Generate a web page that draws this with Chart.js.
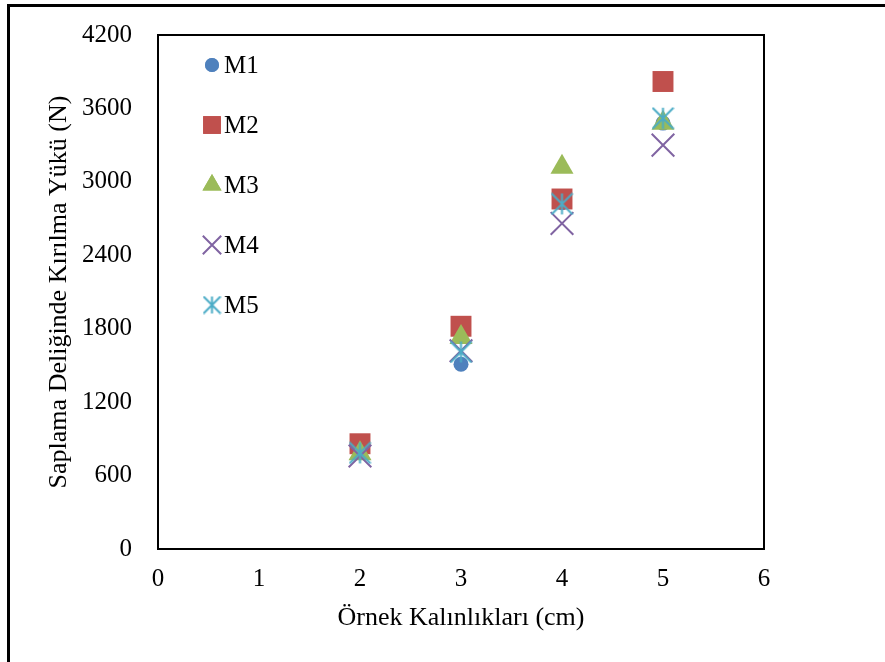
<!DOCTYPE html>
<html>
<head>
<meta charset="utf-8">
<script src="https://cdn.jsdelivr.net/npm/chart.js@4/dist/chart.umd.min.js"></script>
<style>
  html, body { margin: 0; padding: 0; background: #fff; }
  canvas { display: block; }
</style>
</head>
<body>
<canvas id="scatterChart" width="885" height="662"></canvas>
<script>
// sample thickness (cm)
const thickness = [2, 3, 4, 5];

// breaking load values (N) per mix
const m1Values = [790, 1510, 2830, 3480];
const m2Values = [860, 1820, 2860, 3820];
const m3Values = [780, 1730, 3120, 3480];
const m4Values = [760, 1620, 2660, 3300];
const m5Values = [785, 1610, 2820, 3520];

const seriesNames = ['M1', 'M2', 'M3', 'M4', 'M5'];
const yTicks = [0, 600, 1200, 1800, 2400, 3000, 3600, 4200];
const xTicks = [0, 1, 2, 3, 4, 5, 6];

const serif = "'Liberation Serif', 'Times New Roman', serif";

// asterisk marker (vertical line + X), like the Excel star marker
function makeStar(size, color) {
    const c = document.createElement('canvas');
    c.width = size; c.height = size;
    const g = c.getContext('2d');
    g.strokeStyle = color;
    g.lineWidth = 2;
    const m = size / 2, r = size / 2 - 1;
    g.beginPath();
    g.moveTo(m, m - r); g.lineTo(m, m + r);
    g.moveTo(m - r, m - r); g.lineTo(m + r, m + r);
    g.moveTo(m + r, m - r); g.lineTo(m - r, m + r);
    g.stroke();
    return c;
}

const starBig = makeStar(23, '#4BACC6');
const starSmall = makeStar(19, '#4BACC6');

const styles = [
    { color: '#4F81BD', pointStyle: 'circle', radius: 7.5, legendRadius: 7, borderWidth: 0 },
    { color: '#C0504D', pointStyle: 'rect', radius: 14.8, legendRadius: 12.5, borderWidth: 0 },
    { color: '#9BBB59', pointStyle: 'triangle', radius: 13.3, legendRadius: 11, borderWidth: 0 },
    { color: '#8064A2', pointStyle: 'crossRot', radius: 16, legendRadius: 13, borderWidth: 2 },
    { color: '#4BACC6', pointStyle: starBig, radius: 12, legendRadius: 10, borderWidth: 2, legendStyle: starSmall }
];

const allValues = [m1Values, m2Values, m3Values, m4Values, m5Values];

const datasets = allValues.map((vals, i) => {
    const s = styles[i];
    return {
        label: seriesNames[i],
        data: thickness.map((x, k) => ({ x: x, y: vals[k] })),
        pointStyle: s.pointStyle,
        pointRadius: s.radius,
        pointHoverRadius: s.radius,
        backgroundColor: s.color,
        borderColor: s.color,
        pointBorderWidth: s.borderWidth,
        showLine: false,
        order: 5 - i
    };
});

// outer frame + plot box
const framePlugin = {
    id: 'frame',
    beforeDraw(chart) {
        const ctx = chart.ctx;
        ctx.save();
        ctx.fillStyle = '#fff';
        ctx.fillRect(0, 0, chart.width, chart.height);
        ctx.fillStyle = '#000';
        ctx.fillRect(7, 4, chart.width - 7, 3);
        ctx.fillRect(7, 4, 3, chart.height - 4);
        ctx.restore();
    },
    afterDatasetsDraw(chart) {
        const a = chart.chartArea;
        const ctx = chart.ctx;
        ctx.save();
        ctx.strokeStyle = '#000';
        ctx.lineWidth = 2;
        ctx.strokeRect(a.left, a.top, a.right - a.left, a.bottom - a.top);
        ctx.restore();
    }
};

// legend drawn inside the plot, top left
const innerLegend = {
    id: 'innerLegend',
    afterDraw(chart) {
        const ctx = chart.ctx;
        ctx.save();
        ctx.font = '25px ' + serif;
        ctx.textBaseline = 'middle';
        ctx.textAlign = 'left';
        chart.data.datasets.forEach((ds, i) => {
            const s = styles[i];
            const y = 65 + i * 60;
            ctx.fillStyle = s.color;
            ctx.strokeStyle = s.color;
            ctx.lineWidth = s.borderWidth || 1;
            Chart.helpers.drawPoint(ctx, {
                pointStyle: s.legendStyle || s.pointStyle,
                radius: s.legendRadius,
                rotation: 0,
                borderWidth: s.borderWidth
            }, 212, y);
            if (s.pointStyle !== 'crossRot' && typeof s.pointStyle === 'string') ctx.fill();
            ctx.fillStyle = '#000';
            ctx.fillText(ds.label, 224, y + 1);
        });
        ctx.restore();
    }
};

const ctx = document.getElementById('scatterChart').getContext('2d');

const chart = new Chart(ctx, {
    type: 'scatter',
    data: { datasets: datasets },
    options: {
        responsive: false,
        animation: false,
        layout: { padding: { top: 35, right: 121, left: 0, bottom: 0 } },
        plugins: {
            legend: { display: false },
            tooltip: { enabled: false }
        },
        scales: {
            x: {
                type: 'linear',
                min: 0,
                max: 6,
                afterFit(scale) { scale.height = 113; },
                afterBuildTicks(scale) { scale.ticks = xTicks.map(v => ({ value: v })); },
                grid: { display: false, drawTicks: false },
                border: { display: false },
                ticks: {
                    padding: 15,
                    color: '#000',
                    font: { family: serif, size: 25 },
                    callback: (v) => String(v)
                },
                title: {
                    display: true,
                    text: 'Örnek Kalınlıkları (cm)',
                    color: '#000',
                    font: { family: serif, size: 26 },
                    padding: { top: 0, bottom: 28 }
                }
            },
            y: {
                type: 'linear',
                min: 0,
                max: 4200,
                afterFit(scale) {
                    scale.width = 158;
                    scale.paddingTop = 0;
                    scale.paddingBottom = 0;
                },
                afterBuildTicks(scale) { scale.ticks = yTicks.map(v => ({ value: v })); },
                grid: { display: false, drawTicks: false },
                border: { display: false },
                ticks: {
                    padding: 26,
                    color: '#000',
                    font: { family: serif, size: 25 },
                    callback: (v) => String(v)
                },
                title: {
                    display: true,
                    text: 'Saplama Deliğinde Kırılma Yükü (N)',
                    color: '#000',
                    font: { family: serif, size: 26 },
                    padding: { top: 44, bottom: 0 }
                }
            }
        }
    },
    plugins: [framePlugin, innerLegend]
});
</script>
</body>
</html>
